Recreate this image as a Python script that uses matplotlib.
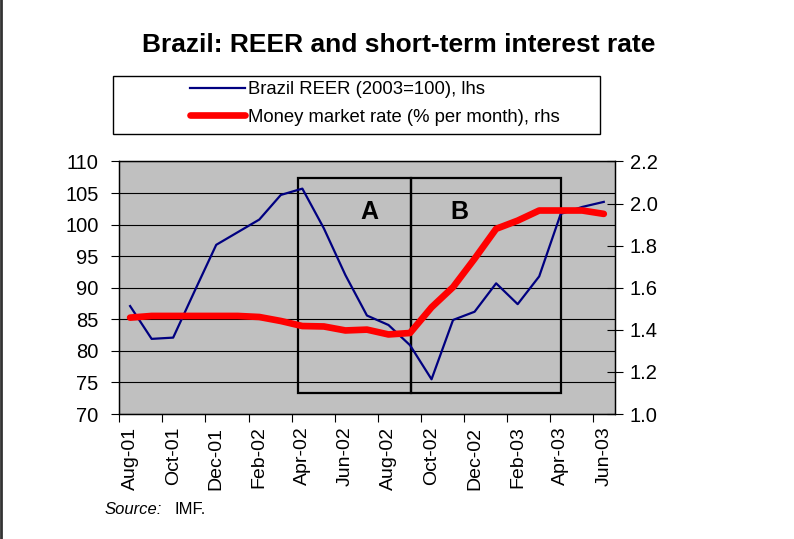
import numpy as np
import matplotlib
matplotlib.use('Agg')
import matplotlib.pyplot as plt
from matplotlib.patches import Rectangle
from matplotlib.lines import Line2D

plt.rcParams['font.family'] = ['Liberation Sans', 'DejaVu Sans']

months = ['Aug-01', 'Sep-01', 'Oct-01', 'Nov-01', 'Dec-01', 'Jan-02', 'Feb-02',
          'Mar-02', 'Apr-02', 'May-02', 'Jun-02', 'Jul-02', 'Aug-02', 'Sep-02',
          'Oct-02', 'Nov-02', 'Dec-02', 'Jan-03', 'Feb-03', 'Mar-03', 'Apr-03',
          'May-03', 'Jun-03']
reer = [87.1, 81.9, 82.1, 89.5, 96.8, 98.8, 100.8, 104.7, 105.7, 99.4, 92.0,
        85.6, 84.1, 80.9, 75.5, 84.9, 86.2, 90.7, 87.4, 91.8, 101.7, 102.8, 103.6]
mm_rate = [1.458, 1.466, 1.466, 1.466, 1.466, 1.466, 1.461, 1.442, 1.418, 1.416,
           1.397, 1.401, 1.378, 1.385, 1.507, 1.603, 1.738, 1.880, 1.919, 1.967,
           1.967, 1.967, 1.951]

x = np.arange(len(months))

fig = plt.figure(figsize=(7.94, 5.39), dpi=100)
ax = fig.add_axes([0.1503, 0.2319, 0.6237, 0.4685])
ax.set_facecolor('#C0C0C0')

ax.plot(x, reer, color='#000080', linewidth=1.6, zorder=3)
ax.set_xlim(-0.5, len(months) - 0.5)
ax.set_ylim(70, 110)
ax.set_yticks(np.arange(70, 111, 5))
ax.yaxis.grid(True, color='black', linewidth=0.8)
ax.set_axisbelow(True)
ax.tick_params(axis='y', direction='out', length=6, width=0.8, pad=9, labelsize=14.5)

# category ticks on boundaries, labels every second month
ax.set_xticks(np.arange(-0.5, len(months), 2))
ax.set_xticklabels([])
ax.set_xticks(x[::2], minor=True)
ax.set_xticklabels(months[::2], minor=True, rotation=90, fontsize=14)
ax.tick_params(axis='x', which='major', direction='out', length=6, width=0.8)
ax.tick_params(axis='x', which='minor', length=0, pad=9)
for s in ax.spines.values():
    s.set_linewidth(0.9)

# episode boxes
ax.add_patch(Rectangle((7.8, 73.3), 13.05 - 7.8, 107.4 - 73.3, fill=False,
                       edgecolor='black', linewidth=1.6, zorder=2))
ax.add_patch(Rectangle((13.05, 73.3), 20.0 - 13.05, 107.4 - 73.3, fill=False,
                       edgecolor='black', linewidth=1.6, zorder=2))
ax.text(11.1, 102.0, 'A', fontsize=18, fontweight='bold', ha='center', va='center')
ax.text(15.3, 102.0, 'B', fontsize=18, fontweight='bold', ha='center', va='center')

ax2 = ax.twinx()
ax2.plot(x, mm_rate, color='#FF0000', linewidth=4.8, solid_capstyle='round', zorder=3)
ax2.set_ylim(1.0, 2.2)
ax2.set_yticks(np.arange(1.0, 2.21, 0.2))
ax2.set_yticklabels([f'{v:.1f}' for v in np.arange(1.0, 2.21, 0.2)])
ax2.tick_params(axis='y', direction='inout', length=12, width=0.8, pad=5, labelsize=14.5)
for s in ax2.spines.values():
    s.set_linewidth(0.9)

fig.text(0.5015, 1 - 45 / 539, 'Brazil: REER and short-term interest rate',
         fontsize=19, fontweight='bold', ha='center', va='center')

# legend box
fig.add_artist(Rectangle((113 / 794, 1 - 134 / 539), (600 - 113) / 794, (134 - 75.7) / 539,
                         transform=fig.transFigure, fill=False, edgecolor='black', linewidth=1.0))
handles = [Line2D([], [], color='#000080', linewidth=1.6),
           Line2D([], [], color='#FF0000', linewidth=4.8, solid_capstyle='round')]
fig.legend(handles, ['Brazil REER (2003=100), lhs', 'Money market rate (% per month), rhs'],
           loc='center left', bbox_to_anchor=(190 / 794, 1 - 103.5 / 539), frameon=False,
           fontsize=13.3, handlelength=3.0, handletextpad=0.15, labelspacing=0.55,
           borderpad=0, borderaxespad=0)

fig.text(105 / 794, 1 - 510 / 539, 'Source:', fontsize=12, style='italic', va='center')
fig.text(175 / 794, 1 - 510 / 539, 'IMF.', fontsize=12, va='center')

fig.add_artist(Line2D([0.001, 0.001], [0, 1], transform=fig.transFigure, color='#333333',
                      linewidth=2.0))

fig.savefig('out.png', dpi=100)
